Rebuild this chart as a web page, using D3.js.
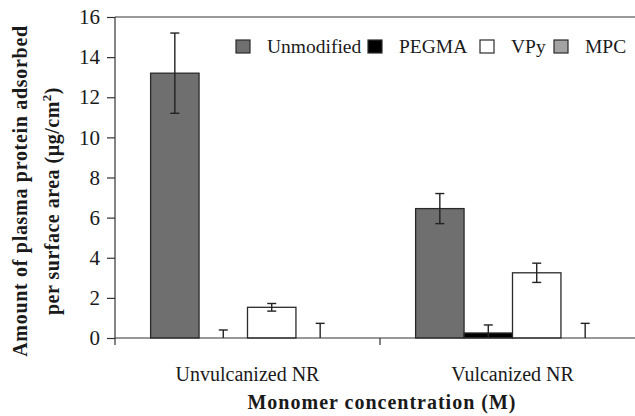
<!DOCTYPE html>
<html>
<head>
<meta charset="utf-8">
<script src="https://cdn.jsdelivr.net/npm/d3@7"></script>
<style>
  body { margin: 0; background: #fff; }
  text { font-family: "Liberation Serif", "Times New Roman", serif; fill: #1a1a1a; }
</style>
</head>
<body>
<svg width="635" height="416"></svg>
<script>
// data
var groups = ["Unvulcanized NR", "Vulcanized NR"];
var series = ["Unmodified", "PEGMA", "VPy", "MPC"];
var colors = ["#6f6f6f", "#000000", "#ffffff", "#a3a3a3"];
// values per series, one per group
var unmodified = [13.2, 6.45];
var pegma = [0, 0.25];
var vpy = [1.53, 3.25];
var mpc = [0, 0];
// error bar half-widths
var unmodifiedErr = [2.0, 0.75];
var pegmaErr = [0.4, 0.4];
var vpyErr = [0.19, 0.48];
var mpcErr = [0.73, 0.73];
var yTicks = [0, 2, 4, 6, 8, 10, 12, 14, 16];

var values = [unmodified, pegma, vpy, mpc];
var errs = [unmodifiedErr, pegmaErr, vpyErr, mpcErr];

var svg = d3.select("svg");
var plotLeft = 115, plotTop = 17, plotBottom = 338, plotRight = 645;

var x0 = d3.scaleBand().domain(groups).range([plotLeft, plotRight]);
var x1 = d3.scaleBand().domain(series).range([0, x0.bandwidth()]).paddingOuter(0.735).paddingInner(0);
var y = d3.scaleLinear().domain([0, 16]).range([plotBottom, plotTop]);

// flatten rows for drawing
var rows = [];
groups.forEach(function(g, gi) {
  series.forEach(function(s, si) {
    rows.push({ group: g, series: s, color: colors[si], value: values[si][gi], err: errs[si][gi] });
  });
});

// plot frame top line
svg.append("line")
  .attr("x1", plotLeft).attr("x2", plotRight)
  .attr("y1", plotTop).attr("y2", plotTop)
  .attr("stroke", "#333").attr("stroke-width", 1.2);

// bars
svg.append("defs").append("clipPath").attr("id", "plotclip")
  .append("rect").attr("x", plotLeft).attr("y", 0).attr("width", plotRight - plotLeft).attr("height", plotBottom);

var plot = svg.append("g");
plot.selectAll(".bar")
  .data(rows.filter(function(d) { return d.value > 0; }))
  .enter().append("rect")
  .attr("class", "bar")
  .attr("x", function(d) { return x0(d.group) + x1(d.series); })
  .attr("y", function(d) { return y(d.value); })
  .attr("width", x1.bandwidth())
  .attr("height", function(d) { return y(0) - y(d.value); })
  .attr("fill", function(d) { return d.color; })
  .attr("stroke", "#2a2a2a")
  .attr("stroke-width", 1.3);

// error bars, clipped at the axis
var eb = svg.append("g").attr("clip-path", "url(#plotclip)")
  .selectAll("g").data(rows).enter().append("g")
  .attr("transform", function(d) { return "translate(" + (x0(d.group) + x1(d.series) + x1.bandwidth() / 2) + ",0)"; })
  .attr("stroke", "#222").attr("stroke-width", 1.4);
eb.append("line")
  .attr("y1", function(d) { return y(d.value + d.err); })
  .attr("y2", function(d) { return y(d.value - d.err); });
eb.append("line").attr("x1", -4.5).attr("x2", 4.5)
  .attr("y1", function(d) { return y(d.value + d.err); })
  .attr("y2", function(d) { return y(d.value + d.err); });
eb.append("line").attr("x1", -4.5).attr("x2", 4.5)
  .attr("y1", function(d) { return y(d.value - d.err); })
  .attr("y2", function(d) { return y(d.value - d.err); });

// y axis
var yAxis = svg.append("g")
  .attr("transform", "translate(" + plotLeft + ",0)")
  .call(d3.axisLeft(y).tickValues(yTicks).tickSize(8).tickPadding(7).tickFormat(d3.format("d")));
yAxis.select(".domain").remove();
yAxis.selectAll("line").attr("stroke", "#333").attr("stroke-width", 1.2);
yAxis.selectAll("text").attr("font-size", "21px").attr("fill", "#1a1a1a")
  .attr("font-family", "Liberation Serif");
svg.append("line")
  .attr("x1", plotLeft).attr("x2", plotLeft).attr("y1", plotTop).attr("y2", plotBottom + 7)
  .attr("stroke", "#333").attr("stroke-width", 1.2);

// x axis
var xAxis = svg.append("g")
  .attr("transform", "translate(0," + plotBottom + ")")
  .call(d3.axisBottom(x0).tickSize(0).tickPadding(29));
xAxis.select(".domain").attr("stroke", "#333").attr("stroke-width", 1.2).attr("d", "M" + plotLeft + ",0H" + plotRight);
xAxis.selectAll("text").attr("font-size", "20px").attr("fill", "#1a1a1a")
  .attr("font-family", "Liberation Serif");
// group boundary ticks
xAxis.selectAll(".sep")
  .data(groups.slice(1))
  .enter().append("line")
  .attr("class", "sep")
  .attr("x1", function(d) { return x0(d); }).attr("x2", function(d) { return x0(d); })
  .attr("y1", 0).attr("y2", 7)
  .attr("stroke", "#333").attr("stroke-width", 1.2);

// axis titles
svg.append("text")
  .attr("x", 382).attr("y", 409)
  .attr("text-anchor", "middle")
  .attr("font-size", "20px").attr("font-weight", "bold")
  .attr("letter-spacing", "1px")
  .text("Monomer concentration (M)");

svg.append("text")
  .attr("transform", "translate(27,191) rotate(-90)")
  .attr("text-anchor", "middle")
  .attr("font-size", "20px").attr("font-weight", "bold")
  .attr("letter-spacing", "0.7px")
  .text("Amount of plasma protein adsorbed");
var l2 = svg.append("text")
  .attr("transform", "translate(59,201) rotate(-90)")
  .attr("text-anchor", "middle")
  .attr("font-size", "20px").attr("font-weight", "bold")
  .attr("letter-spacing", "0.5px");
l2.append("tspan").text("per surface area (\u00b5g/cm");
l2.append("tspan").attr("dy", -8).attr("font-size", "13px").text("2");
l2.append("tspan").attr("dy", 8).text(")");

// legend
var legX = [236, 368, 480, 554];
var legend = svg.append("g").selectAll("g")
  .data(series).enter().append("g")
  .attr("transform", function(d, i) { return "translate(" + legX[i] + ",40)"; });
legend.append("rect")
  .attr("width", 14).attr("height", 13)
  .attr("fill", function(d, i) { return colors[i]; })
  .attr("stroke", "#2a2a2a").attr("stroke-width", 1.2);
legend.append("text")
  .attr("x", 31)
  .attr("y", 13)
  .attr("font-size", "19.5px")
  .text(function(d) { return d; });
</script>
</body>
</html>
